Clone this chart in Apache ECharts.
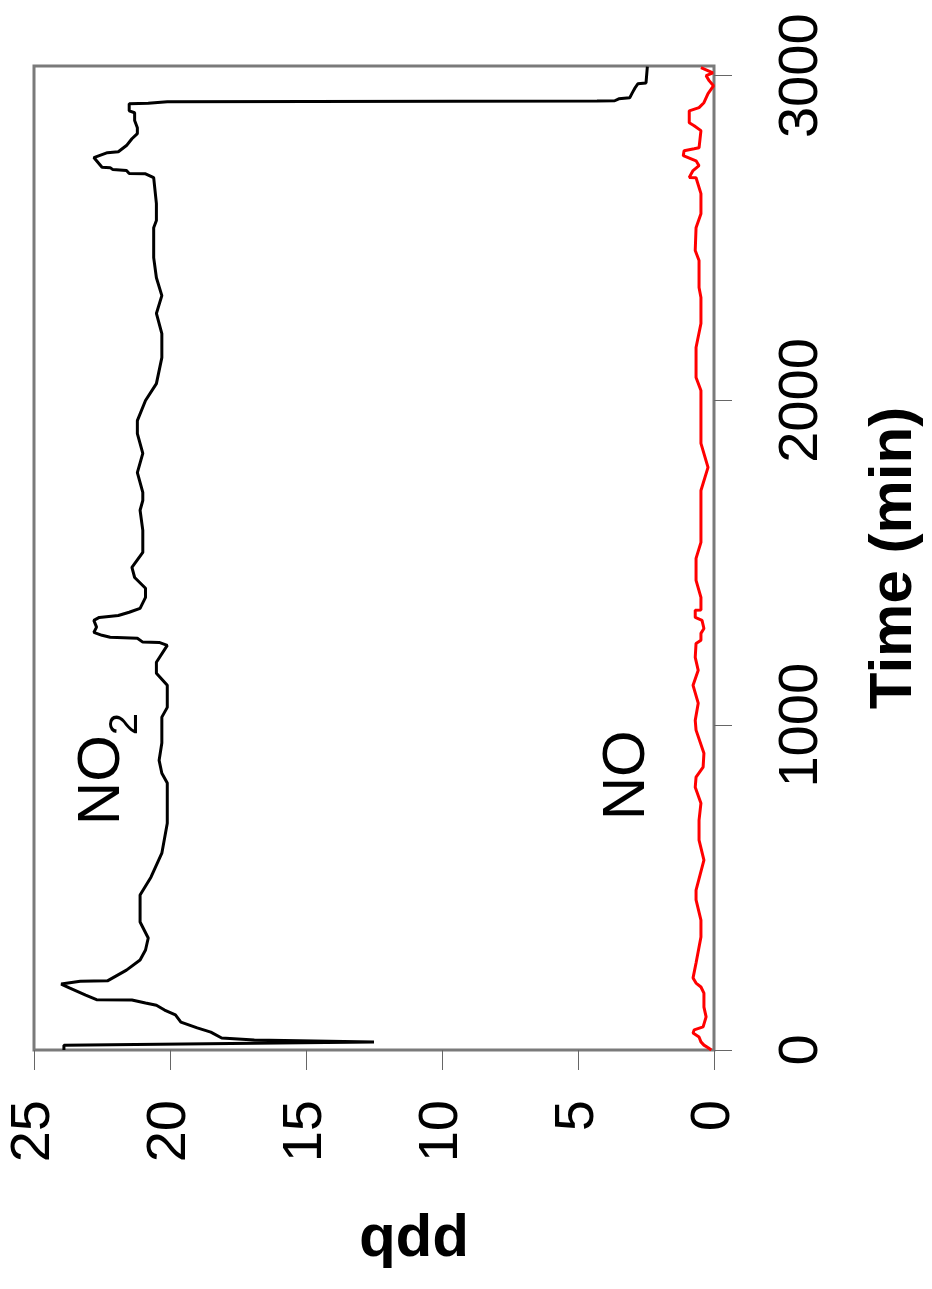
<!DOCTYPE html>
<html>
<head>
<meta charset="utf-8">
<script src="https://cdn.jsdelivr.net/npm/echarts@6/dist/echarts.min.js"></script>
<style>
  body { margin: 0; background: #fff; }
  #main { width: 932px; height: 1289px; }
</style>
</head>
<body>
<div id="main"></div>
<script>
// chart is drawn turned on its side: time runs up the right, ppb runs right to left
const timeTicks = [0, 1000, 2000, 3000];

// NO2 trace (black), time in min and value in ppb
const no2Time = [0, 15, 25, 31, 37, 55, 68, 86, 108, 123, 138, 145, 154, 155, 169, 191, 203, 212, 213, 246,
    277, 308, 345, 394, 477, 532, 606, 698, 769, 822, 852, 892, 945, 1025, 1055, 1123, 1160, 1194, 1246, 1255,
    1256, 1268, 1271, 1277, 1286, 1302, 1323, 1332, 1338, 1348, 1360, 1394, 1422, 1455, 1486, 1532, 1600, 1662, 1692, 1717,
    1778, 1837, 1898, 1938, 2000, 2052, 2132, 2206, 2268, 2323, 2378, 2440, 2532, 2554, 2606, 2686, 2698, 2699, 2708, 2711,
    2717, 2718, 2748, 2763, 2766, 2785, 2806, 2822, 2840, 2862, 2886, 2892, 2914, 2915, 2920, 2922, 2923, 2929, 2932, 2948,
    2963, 2975, 2978, 3028];
const no2Ppb = [23.9, 23.9, 12.5, 16.9, 18.1, 18.5, 19.0, 19.6, 19.8, 20.2, 20.5, 20.9, 21.4, 22.7, 23.1, 23.7, 24.0, 23.3, 22.3, 21.6,
    21.1, 20.9, 20.8, 21.1, 21.1, 20.7, 20.3, 20.1, 20.1, 20.1, 20.3, 20.4, 20.3, 20.3, 20.1, 20.1, 20.5, 20.5, 20.1, 20.4,
    21.0, 21.2, 22.2, 22.5, 22.8, 22.7, 22.8, 22.6, 21.9, 21.5, 21.1, 20.9, 20.9, 21.3, 21.4, 21.0, 21.0, 21.1, 21.0, 21.0,
    21.2, 21.0, 21.2, 21.2, 20.9, 20.5, 20.3, 20.3, 20.5, 20.3, 20.5, 20.6, 20.6, 20.5, 20.5, 20.6, 20.9, 21.5, 21.6, 22.1,
    22.2, 22.5, 22.8, 22.3, 21.9, 21.6, 21.4, 21.2, 21.2, 21.3, 21.3, 21.5, 21.5, 20.8, 20.1, 4.3, 3.65, 3.5, 3.1, 3.0,
    2.9, 2.8, 2.5, 2.45];

// NO trace (red)
const noTime = [0, 6, 15, 25, 40, 52, 62, 71, 102, 132, 175, 194, 206, 222, 268, 348, 400, 462, 492, 585,
    646, 708, 760, 809, 840, 871, 914, 985, 1015, 1068, 1123, 1169, 1209, 1252, 1262, 1283, 1298, 1323, 1332, 1354,
    1355, 1394, 1446, 1514, 1563, 1723, 1794, 1868, 2031, 2071, 2163, 2237, 2317, 2348, 2431, 2462, 2532, 2575, 2637, 2686,
    2687, 2708, 2723, 2738, 2754, 2769, 2775, 2778, 2831, 2846, 2855, 2892, 2902, 2917, 2945, 2969, 2985, 3000, 3009, 3025];
const noPpb = [0.1, 0.2, 0.37, 0.48, 0.55, 0.77, 0.73, 0.4, 0.29, 0.37, 0.37, 0.48, 0.66, 0.77, 0.66, 0.48, 0.48, 0.66, 0.66, 0.37,
    0.55, 0.55, 0.48, 0.69, 0.66, 0.4, 0.37, 0.66, 0.69, 0.58, 0.77, 0.58, 0.69, 0.66, 0.48, 0.48, 0.37, 0.44, 0.69, 0.69,
    0.48, 0.48, 0.66, 0.66, 0.48, 0.48, 0.22, 0.48, 0.48, 0.66, 0.66, 0.48, 0.48, 0.55, 0.55, 0.69, 0.66, 0.48, 0.48, 0.66,
    0.91, 0.77, 0.55, 0.66, 1.13, 1.1, 0.73, 0.55, 0.48, 0.73, 0.91, 0.91, 0.55, 0.37, 0.22, 0.02, 0.18, 0.29, 0.04, 0.48];

function pairs(times, vals) {
    let out = [];
    for (let i = 0; i < times.length; i++) {
        out.push([vals[i], times[i]]); //x is ppb, y is time
    }
    return out;
}

const FONT = 'Liberation Sans, Arial, sans-serif';
const frameColor = '#7a7a7a';

let option = {
    animation: false,
    backgroundColor: '#ffffff',
    grid: {
        left: 34, right: 214, top: 66, bottom: 239,
        show: true, borderColor: frameColor, borderWidth: 3, backgroundColor: 'transparent'
    },
    xAxis: {
        type: 'value',
        min: 0, max: 25, interval: 5,
        inverse: true,
        name: 'ppb',
        nameLocation: 'middle',
        nameRotate: 180,
        nameGap: 162,
        nameTextStyle: { fontFamily: FONT, fontSize: 60, fontWeight: 'bold', color: '#000', padding: [0, 80, 0, 0] },
        axisLine: { onZero: false, lineStyle: { color: frameColor, width: 2 } },
        axisTick: { show: true, length: 20, lineStyle: { color: '#666', width: 1 } },
        axisLabel: { rotate: 90, margin: 50, fontFamily: FONT, fontSize: 56, color: '#000' },
        splitLine: { show: false }
    },
    yAxis: {
        type: 'value',
        position: 'right',
        min: 0, max: 3030,
        name: 'Time (min)',
        nameLocation: 'middle',
        nameRotate: 90,
        nameGap: 150,
        nameTextStyle: { fontFamily: FONT, fontSize: 60, fontWeight: 'bold', color: '#000' },
        axisLine: { onZero: false, lineStyle: { color: frameColor, width: 2 } },
        axisTick: { show: true, length: 18, customValues: timeTicks, lineStyle: { color: '#666', width: 1 } },
        axisLabel: {
            rotate: 90, margin: 60, customValues: timeTicks,
            formatter: function (v) { return String(v); }, //no thousands comma
            fontFamily: FONT, fontSize: 56, color: '#000'
        },
        splitLine: { show: false }
    },
    series: [
        {
            name: 'NO2',
            type: 'line',
            data: pairs(no2Time, no2Ppb),
            showSymbol: false,
            lineStyle: { color: '#000000', width: 3 },
            z: 3
        },
        {
            name: 'NO',
            type: 'line',
            data: pairs(noTime, noPpb),
            showSymbol: false,
            lineStyle: { color: '#ff0000', width: 3 },
            z: 4
        }
    ]
};

let myChart = echarts.init(document.getElementById('main'));
myChart.setOption(option);

//place the turned labels next to the curves
let pNO2 = myChart.convertToPixel({ xAxisIndex: 0, yAxisIndex: 0 }, [22.5, 831]);
let pNO = myChart.convertToPixel({ xAxisIndex: 0, yAxisIndex: 0 }, [3.2, 846]);
myChart.setOption({
    graphic: [
        {
            type: 'text', x: pNO2[0], y: pNO2[1], rotation: Math.PI / 2,
            style: { text: 'NO', font: '60px ' + FONT, fill: '#000', align: 'center', verticalAlign: 'middle' }
        },
        {
            type: 'text', x: pNO2[0] + 24, y: pNO2[1] - 56, rotation: Math.PI / 2,
            style: { text: '2', font: '40px ' + FONT, fill: '#000', align: 'center', verticalAlign: 'middle' }
        },
        {
            type: 'text', x: pNO[0], y: pNO[1], rotation: Math.PI / 2,
            style: { text: 'NO', font: '60px ' + FONT, fill: '#000', align: 'center', verticalAlign: 'middle' }
        }
    ]
});
</script>
</body>
</html>
